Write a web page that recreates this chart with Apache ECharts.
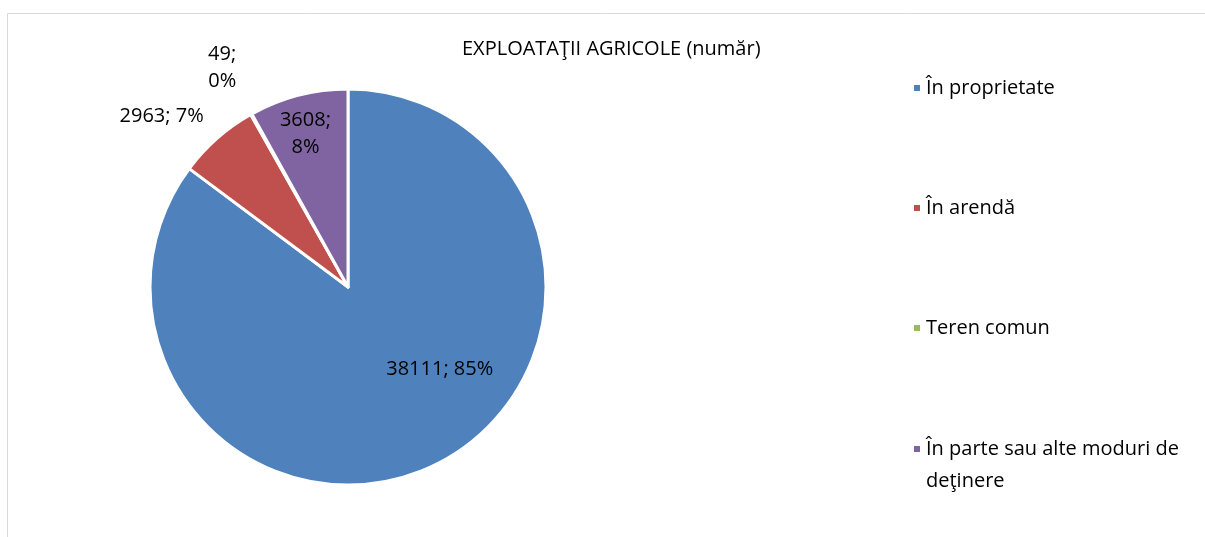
<!DOCTYPE html>
<html>
<head>
<meta charset="utf-8">
<script src="https://cdn.jsdelivr.net/npm/echarts@6/dist/echarts.min.js"></script>
<style>
html,body{margin:0;padding:0;background:#fff;}
#c{width:1205px;height:537px;}
</style>
</head>
<body>
<div id="c"></div>
<script>
const titleText = 'EXPLOATAŢII AGRICOLE (număr)';
const categories = ['În proprietate', 'În arendă', 'Teren comun', 'În parte sau alte moduri de deţinere'];
const values = [38111, 2963, 49, 3608];
const percentLabels = ['85%', '7%', '0%', '8%'];
const colors = ['#4F81BD', '#C0504D', '#9BBB59', '#8064A2'];

const FONT = 'Open Sans';
const FS = 20;
const labelOffsets = [[46, -9], [-119, -94], [-76, -130], [-17, -54]];
const labelSep = [' ', ' ', '\n', '\n'];

const chart = echarts.init(document.getElementById('c'), null, {renderer: 'canvas'});
const data = categories.map((name, i) => ({
  name: name,
  value: values[i],
  itemStyle: {color: colors[i]},
  label: {offset: labelOffsets[i]}
}));

chart.setOption({
  animation: false,
  backgroundColor: '#fff',
  graphic: [{
    type: 'rect',
    shape: {x: 7.5, y: 13.5, width: 1400, height: 700},
    style: {fill: 'none', stroke: '#d9d9d9', lineWidth: 1},
    silent: true,
    z: -10
  }],
  title: {
    text: titleText,
    left: 462,
    top: 39,
    padding: 0,
    textStyle: {fontFamily: FONT, fontSize: FS, fontWeight: 'normal', color: '#000'}
  },
  legend: [{
    orient: 'vertical',
    left: 912,
    top: 72,
    padding: 0,
    itemGap: 88,
    itemWidth: 8,
    itemHeight: 8,
    icon: 'rect',
    data: categories.slice(0, 3),
    textStyle: {fontFamily: FONT, fontSize: FS, color: '#000', lineHeight: 32}
  }, {
    orient: 'vertical',
    left: 912,
    top: 401,
    padding: 0,
    itemWidth: 8,
    itemHeight: 8,
    icon: 'rect',
    data: categories.slice(3),
    formatter: function (n) { return '\nÎn parte sau alte moduri de\ndeţinere'; },
    textStyle: {fontFamily: FONT, fontSize: FS, color: '#000', lineHeight: 32}
  }],
  series: [{
    type: 'pie',
    center: [348, 287],
    radius: 198,
    startAngle: 90,
    clockwise: true,
    avoidLabelOverlap: false,
    itemStyle: {borderColor: '#fff', borderWidth: 3},
    label: {
      show: true,
      position: 'inside',
      fontFamily: FONT,
      fontSize: FS,
      color: '#000',
      lineHeight: 27,
      align: 'center',
      formatter: function (p) {
        return p.value + ';' + labelSep[p.dataIndex] + percentLabels[p.dataIndex];
      }
    },
    labelLine: {show: false},
    emphasis: {disabled: true},
    data: data
  }]
});
</script>
</body>
</html>
